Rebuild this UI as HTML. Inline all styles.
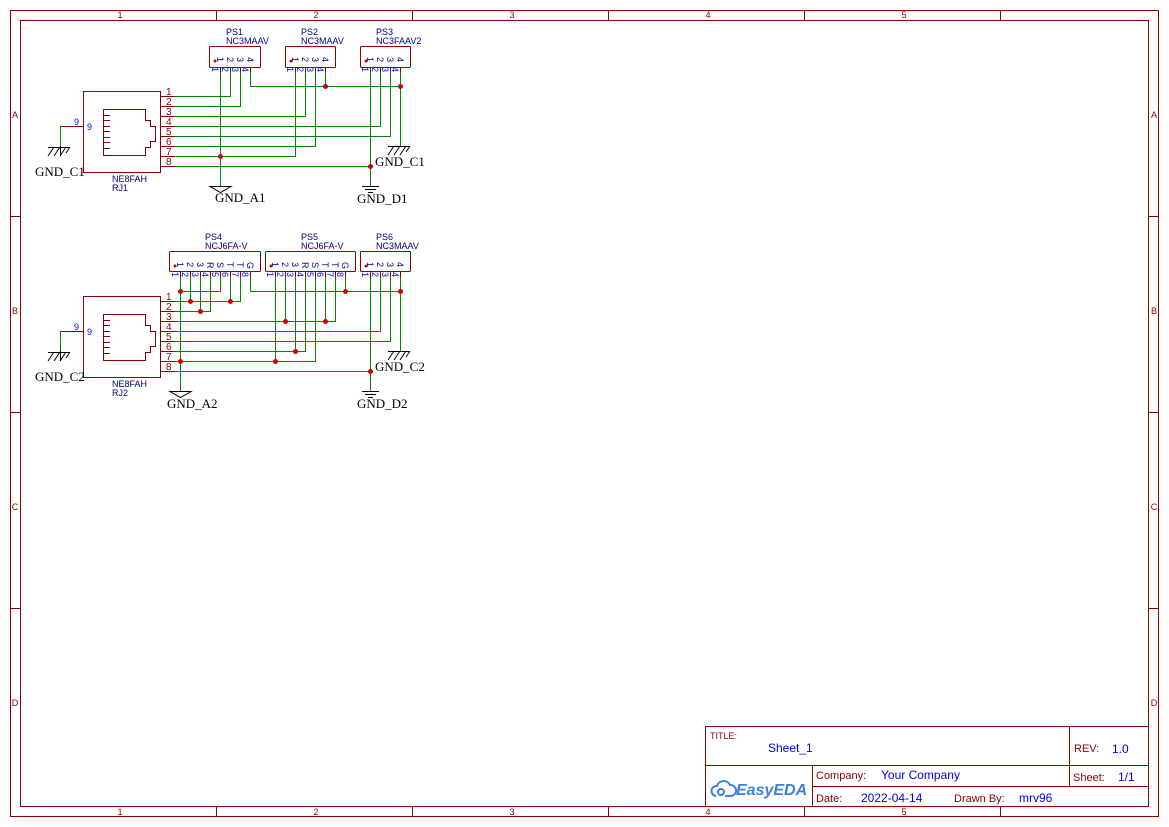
<!DOCTYPE html>
<html><head><meta charset="utf-8"><style>
html,body{margin:0;padding:0;background:#fff;}
svg{display:block;}
.f{stroke:#8b0000;fill:none;stroke-width:1;}
.w{stroke:#008800;stroke-width:1;fill:none;}
.p{stroke:#8b0000;stroke-width:1;fill:none;}
.j{fill:#cc0000;}
.lb{font-family:"Liberation Sans",sans-serif;font-size:9px;fill:#000080;}
.pn{font-family:"Liberation Sans",sans-serif;font-size:10px;fill:#8b0000;}
.pb{font-family:"Liberation Sans",sans-serif;font-size:9px;fill:#0000ff;}
.g{font-family:"Liberation Serif",serif;font-size:13px;fill:#000;}
.fr{font-family:"Liberation Sans",sans-serif;font-size:9px;fill:#8b0000;}
.tb{font-family:"Liberation Sans",sans-serif;font-size:11px;fill:#8b0000;}
.tv{font-family:"Liberation Sans",sans-serif;font-size:12px;fill:#0000ee;}
</style></head><body>
<svg width="1169" height="827" viewBox="0 0 1169 827" xmlns="http://www.w3.org/2000/svg">
<rect x="10.5" y="10.5" width="1148" height="806" class="f"/>
<rect x="20.5" y="20.5" width="1128" height="786" class="f"/>
<g class="f">
<path d="M216.5 10V20M412.5 10V20M608.5 10V20M804.5 10V20M1000.5 10V20"/>
<path d="M216.5 807V817M412.5 807V817M608.5 807V817M804.5 807V817M1000.5 807V817"/>
<path d="M10 216.5H20M10 412.5H20M10 608.5H20M1149 216.5H1159M1149 412.5H1159M1149 608.5H1159"/>
</g>
<g class="fr" text-anchor="middle">
<text x="120" y="18">1</text><text x="316" y="18">2</text><text x="512" y="18">3</text><text x="708" y="18">4</text><text x="904" y="18">5</text>
<text x="120" y="815">1</text><text x="316" y="815">2</text><text x="512" y="815">3</text><text x="708" y="815">4</text><text x="904" y="815">5</text>
<text x="15" y="118">A</text><text x="15" y="314">B</text><text x="15" y="510">C</text><text x="15" y="706">D</text>
<text x="1154" y="118">A</text><text x="1154" y="314">B</text><text x="1154" y="510">C</text><text x="1154" y="706">D</text>
</g>
<g class="f">
<rect x="705.5" y="726.5" width="443" height="80"/>
<path d="M705 765.5H1149M812 786.5H1149M1069.5 726V786M812.5 765V807"/>
</g>
<text x="710" y="739" class="fr" font-size="10">TITLE:</text>
<text x="768" y="752" class="tv" font-size="14">Sheet_1</text>
<text x="1074" y="752" class="tb">REV:</text><text x="1112" y="753" class="tv">1.0</text>
<text x="816" y="779" class="tb">Company:</text><text x="881" y="779" class="tv">Your Company</text>
<text x="1073" y="781" class="tb">Sheet:</text><text x="1118" y="781" class="tv">1/1</text>
<text x="816" y="802" class="tb">Date:</text><text x="861" y="802" class="tv">2022-04-14</text>
<text x="954" y="802" class="tb">Drawn By:</text><text x="1019" y="802" class="tv">mrv96</text>
<g stroke="#3d7fe0" stroke-width="2" fill="none"><path d="M716 796a5 5 0 0 1 1-10a7 7 0 0 1 13-1a5 5 0 0 1 1 11h-6"/><circle cx="721" cy="792" r="3"/></g>
<text x="736" y="795" font-family="Liberation Sans,sans-serif" font-size="16" font-style="italic" font-weight="bold" fill="#3d7fe0">EasyEDA</text>

<g>
<rect x="83.5" y="91.5" width="77" height="81" class="p"/>
<path class="p" d="M103.5 109.5H145.5V120.5H150.5V126.5H155.5V141.5H150.5V147.5H145.5V155.5H103.5Z"/>
<path class="p" d="M103.5 115.5H110M103.5 120.5H110M103.5 126.5H110M103.5 131.5H110M103.5 137.5H110M103.5 142.5H110M103.5 148.5H110"/>
<path class="p" d="M160 96.5H175M160 106.5H175M160 116.5H175M160 126.5H175M160 136.5H175M160 146.5H175M160 156.5H175M160 166.5H175M60 126.5H83"/>
<g class="pn"><text x="166" y="95">1</text><text x="166" y="105">2</text><text x="166" y="115">3</text><text x="166" y="125">4</text><text x="166" y="135">5</text><text x="166" y="145">6</text><text x="166" y="155">7</text><text x="166" y="165">8</text></g>
<text x="74" y="125" class="pb">9</text><text x="87" y="130" class="pb">9</text>
<path class="w" d="M60.5 126V146"/>
<path d="M48 147.5H70M60.5 146V156M54 147l-6 9M60 147l-6 9M66 147l-6 9M70 147l-4 6" stroke="#000" fill="none"/>
<text x="35" y="176" class="g">GND_C1</text>
<text x="112" y="182" class="lb">NE8FAH</text><text x="112" y="191" class="lb">RJ1</text>
</g>

<g class="p">
<rect x="209.5" y="46.5" width="51" height="21" rx="1"/>
<rect x="285.5" y="46.5" width="50" height="21" rx="1"/>
<rect x="360.5" y="46.5" width="50" height="21" rx="1"/>
<path d="M220.5 67V73M230.5 67V73M240.5 67V73M250.5 67V73M295.5 67V73M305.5 67V73M315.5 67V73M325.5 67V73M370.5 67V73M380.5 67V73M390.5 67V73M400.5 67V73"/>
</g>
<circle cx="215" cy="61" r="1.5" class="j"/><circle cx="291" cy="61" r="1.5" class="j"/><circle cx="366" cy="61" r="1.5" class="j"/>
<g class="lb"><text x="226" y="35">PS1</text><text x="226" y="44">NC3MAAV</text><text x="301" y="35">PS2</text><text x="301" y="44">NC3MAAV</text><text x="376" y="35">PS3</text><text x="376" y="44">NC3FAAV2</text></g>
<g class="lb" font-size="8">
<text transform="translate(217,57) rotate(90)">1</text><text transform="translate(227,57) rotate(90)">2</text><text transform="translate(237,57) rotate(90)">3</text><text transform="translate(247,57) rotate(90)">4</text>
<text transform="translate(292,57) rotate(90)">1</text><text transform="translate(302,57) rotate(90)">2</text><text transform="translate(312,57) rotate(90)">3</text><text transform="translate(322,57) rotate(90)">4</text>
<text transform="translate(367,57) rotate(90)">1</text><text transform="translate(377,57) rotate(90)">2</text><text transform="translate(387,57) rotate(90)">3</text><text transform="translate(397,57) rotate(90)">4</text>
</g>
<g class="pb" font-size="8">
<text transform="translate(212,67) rotate(90)">1</text><text transform="translate(222,67) rotate(90)">2</text><text transform="translate(232,67) rotate(90)">3</text><text transform="translate(242,67) rotate(90)">4</text>
<text transform="translate(287,67) rotate(90)">1</text><text transform="translate(297,67) rotate(90)">2</text><text transform="translate(307,67) rotate(90)">3</text><text transform="translate(317,67) rotate(90)">4</text>
<text transform="translate(362,67) rotate(90)">1</text><text transform="translate(372,67) rotate(90)">2</text><text transform="translate(382,67) rotate(90)">3</text><text transform="translate(392,67) rotate(90)">4</text>
</g>
<g class="w">
<path d="M220.5 73V186M230.5 73V96.5H175M240.5 73V106.5H175M250.5 73V86.5H400.5"/>
<path d="M295.5 73V156.5H175M305.5 73V116.5H175M315.5 73V146.5H175M325.5 73V86"/>
<path d="M370.5 73V186M380.5 73V126.5H175M390.5 73V136.5H175M400.5 73V146M370.5 166.5H175"/>
</g>
<circle cx="220.5" cy="156.5" r="2.5" class="j"/><circle cx="325.5" cy="86.5" r="2.5" class="j"/><circle cx="400.5" cy="86.5" r="2.5" class="j"/><circle cx="370.5" cy="166.5" r="2.5" class="j"/>
<path d="M388 146.5H410M394 146l-6 9M400 146l-6 9M406 146l-6 9M410 146l-4 6" stroke="#000" fill="none"/>
<text x="375" y="166" class="g">GND_C1</text>
<path d="M210 186.5H231L220.5 192.5Z" stroke="#000" fill="none"/>
<text x="215" y="202" class="g">GND_A1</text>
<path d="M362 186.5H379M365 189.5H376M368 192.5H373" stroke="#000"/>
<text x="357" y="203" class="g">GND_D1</text>

<g transform="translate(0,205)">
<rect x="83.5" y="91.5" width="77" height="81" class="p"/>
<path class="p" d="M103.5 109.5H145.5V120.5H150.5V126.5H155.5V141.5H150.5V147.5H145.5V155.5H103.5Z"/>
<path class="p" d="M103.5 115.5H110M103.5 120.5H110M103.5 126.5H110M103.5 131.5H110M103.5 137.5H110M103.5 142.5H110M103.5 148.5H110"/>
<path class="p" d="M160 96.5H175M160 106.5H175M160 116.5H175M160 126.5H175M160 136.5H175M160 146.5H175M160 156.5H175M160 166.5H175M60 126.5H83"/>
<g class="pn"><text x="166" y="95">1</text><text x="166" y="105">2</text><text x="166" y="115">3</text><text x="166" y="125">4</text><text x="166" y="135">5</text><text x="166" y="145">6</text><text x="166" y="155">7</text><text x="166" y="165">8</text></g>
<text x="74" y="125" class="pb">9</text><text x="87" y="130" class="pb">9</text>
<path class="w" d="M60.5 126V146"/>
<path d="M48 147.5H70M60.5 146V156M54 147l-6 9M60 147l-6 9M66 147l-6 9M70 147l-4 6" stroke="#000" fill="none"/>
<text x="35" y="176" class="g">GND_C2</text>
<text x="112" y="182" class="lb">NE8FAH</text><text x="112" y="191" class="lb">RJ2</text>
</g>
<g class="p">
<rect x="169.5" y="251.5" width="91" height="20" rx="1"/>
<rect x="265.5" y="251.5" width="90" height="20" rx="1"/>
<rect x="360.5" y="251.5" width="50" height="20" rx="1"/>
<path d="M180.5 271V277M190.5 271V277M200.5 271V277M210.5 271V277M220.5 271V277M230.5 271V277M240.5 271V277M250.5 271V277"/>
<path d="M275.5 271V277M285.5 271V277M295.5 271V277M305.5 271V277M315.5 271V277M325.5 271V277M335.5 271V277M345.5 271V277"/>
<path d="M370.5 271V277M380.5 271V277M390.5 271V277M400.5 271V277"/>
</g>
<circle cx="175" cy="266" r="1.5" class="j"/><circle cx="271" cy="266" r="1.5" class="j"/><circle cx="366" cy="266" r="1.5" class="j"/>
<g class="lb"><text x="205" y="240">PS4</text><text x="205" y="249">NCJ6FA-V</text><text x="301" y="240">PS5</text><text x="301" y="249">NCJ6FA-V</text><text x="376" y="240">PS6</text><text x="376" y="249">NC3MAAV</text></g>
<g class="lb" font-size="8">
<text transform="translate(177,262) rotate(90)">1</text><text transform="translate(187,262) rotate(90)">2</text><text transform="translate(197,262) rotate(90)">3</text><text transform="translate(207,262) rotate(90)">R</text><text transform="translate(217,262) rotate(90)">S</text><text transform="translate(227,262) rotate(90)">T</text><text transform="translate(237,262) rotate(90)">T</text><text transform="translate(247,262) rotate(90)">G</text>
<text transform="translate(272,262) rotate(90)">1</text><text transform="translate(282,262) rotate(90)">2</text><text transform="translate(292,262) rotate(90)">3</text><text transform="translate(302,262) rotate(90)">R</text><text transform="translate(312,262) rotate(90)">S</text><text transform="translate(322,262) rotate(90)">T</text><text transform="translate(332,262) rotate(90)">T</text><text transform="translate(342,262) rotate(90)">G</text>
<text transform="translate(367,262) rotate(90)">1</text><text transform="translate(377,262) rotate(90)">2</text><text transform="translate(387,262) rotate(90)">3</text><text transform="translate(397,262) rotate(90)">4</text>
</g>
<g class="pb" font-size="8">
<text transform="translate(172,272) rotate(90)">1</text><text transform="translate(182,272) rotate(90)">2</text><text transform="translate(192,272) rotate(90)">3</text><text transform="translate(202,272) rotate(90)">4</text><text transform="translate(212,272) rotate(90)">5</text><text transform="translate(222,272) rotate(90)">6</text><text transform="translate(232,272) rotate(90)">7</text><text transform="translate(242,272) rotate(90)">8</text>
<text transform="translate(267,272) rotate(90)">1</text><text transform="translate(277,272) rotate(90)">2</text><text transform="translate(287,272) rotate(90)">3</text><text transform="translate(297,272) rotate(90)">4</text><text transform="translate(307,272) rotate(90)">5</text><text transform="translate(317,272) rotate(90)">6</text><text transform="translate(327,272) rotate(90)">7</text><text transform="translate(337,272) rotate(90)">8</text>
<text transform="translate(362,272) rotate(90)">1</text><text transform="translate(372,272) rotate(90)">2</text><text transform="translate(382,272) rotate(90)">3</text><text transform="translate(392,272) rotate(90)">4</text>
</g>
<g class="w">
<path d="M180.5 277V391M190.5 277V301M200.5 277V311M210.5 277V311.5H175M220.5 277V291.5H180M230.5 277V301M240.5 277V301.5H175M250.5 277V291.5H400.5"/>
<path d="M275.5 277V361M285.5 277V321M295.5 277V351M305.5 277V351.5H175M315.5 277V361.5H175M325.5 277V321M335.5 277V321.5H175M345.5 277V291"/>
<path d="M370.5 277V391M380.5 277V331.5H175M390.5 277V341.5H175M400.5 277V351M370.5 371.5H175"/>
</g>
<g class="j">
<circle cx="180.5" cy="291.5" r="2.5"/><circle cx="190.5" cy="301.5" r="2.5"/><circle cx="230.5" cy="301.5" r="2.5"/><circle cx="200.5" cy="311.5" r="2.5"/>
<circle cx="345.5" cy="291.5" r="2.5"/><circle cx="400.5" cy="291.5" r="2.5"/><circle cx="285.5" cy="321.5" r="2.5"/><circle cx="325.5" cy="321.5" r="2.5"/>
<circle cx="295.5" cy="351.5" r="2.5"/><circle cx="180.5" cy="361.5" r="2.5"/><circle cx="275.5" cy="361.5" r="2.5"/><circle cx="370.5" cy="371.5" r="2.5"/>
</g>
<path d="M388 351.5H410M394 351l-6 9M400 351l-6 9M406 351l-6 9M410 351l-4 6" stroke="#000" fill="none"/>
<text x="375" y="371" class="g">GND_C2</text>
<path d="M170 391.5H191L180.5 397.5Z" stroke="#000" fill="none"/>
<text x="167" y="408" class="g">GND_A2</text>
<path d="M362 391.5H379M365 394.5H376M368 397.5H373" stroke="#000"/>
<text x="357" y="408" class="g">GND_D2</text>
</svg>
</body></html>
